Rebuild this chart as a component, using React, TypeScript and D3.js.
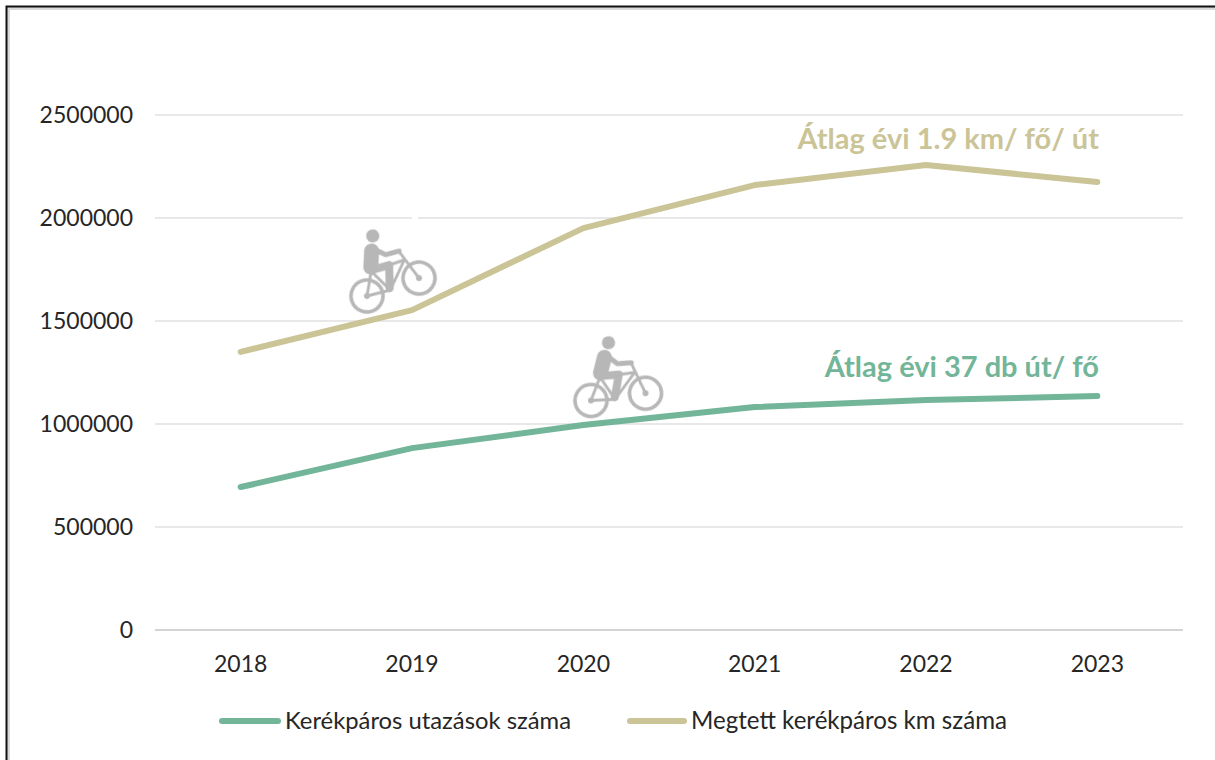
import * as d3 from 'd3'

const YEARS = ['2018', '2019', '2020', '2021', '2022', '2023']
const TRIPS = [694000, 883000, 995000, 1082000, 1116000, 1136000]
const KMS = [1350000, 1553000, 1951000, 2160000, 2257000, 2175000]
const Y_TICKS = [0, 500000, 1000000, 1500000, 2000000, 2500000]

const GREEN = '#73B598'
const TAN = '#CBC497'
const ICON = '#B7B7B7'
const FONT = 'Lato, "Open Sans", sans-serif'

const WIDTH = 1215
const HEIGHT = 760

const x = d3.scaleBand<string>().domain(YEARS).range([155, 1183])
const y = d3.scaleLinear().domain([0, 2500000]).range([630, 115])

const line = d3
  .line<number>()
  .x((_, i) => (x(YEARS[i]) as number) + x.bandwidth() / 2)
  .y(d => y(d))

// Rider on a bike, origin at the rear hub
function Bike({ tx, ty, angle }: { tx: number; ty: number; angle: number }) {
  return (
    <g transform={`translate(${tx},${ty}) rotate(${angle})`} fill="none" stroke={ICON} strokeLinecap="round" strokeLinejoin="round" filter="url(#soft)">
      <circle cx={0} cy={0} r={16} strokeWidth={3.6} />
      <circle cx={55} cy={0} r={16} strokeWidth={3.6} />
      <circle cx={0} cy={0} r={3} fill={ICON} stroke="none" />
      <circle cx={55} cy={0} r={3} fill={ICON} stroke="none" />
      <path d="M0 0 L24 2 L47 -22 L12 -22 L0 0 M12 -22 L24 2 M55 0 L45 -31" strokeWidth={2.8} />
      <circle cx={25} cy={-55} r={6.6} fill={ICON} stroke="none" />
      <path d="M19 -41 L13 -26" strokeWidth={15} />
      <path d="M21 -43 L31 -33 L45 -32" strokeWidth={5} />
      <path d="M13 -23 L31 -22 L24 0" strokeWidth={8} />
    </g>
  )
}

export default function App() {
  return (
    <svg
      width={WIDTH}
      height={HEIGHT}
      style={{ position: 'absolute', left: 0, top: 0, background: '#fff' }}
      fontFamily={FONT}
    >
      <defs>
        <filter id="soft">
          <feGaussianBlur stdDeviation={0.5} />
        </filter>
      </defs>

      {/* frame: only top and left edges are in view */}
      <path d="M8.5 760 V8.5 H1215" fill="none" stroke="#D9D9D9" strokeWidth={3} />
      <path d="M6.5 760 V6.5 H1215" fill="none" stroke="#111" strokeWidth={2} />

      {Y_TICKS.map(t => (
        <g key={t}>
          <line x1={155} x2={1183} y1={y(t)} y2={y(t)} stroke={t === 0 ? '#D4D4D4' : '#E8E8E8'} strokeWidth={2} />
          <text x={133} y={y(t) + 8} textAnchor="end" fontSize={23} fill="#262626">
            {t}
          </text>
        </g>
      ))}
      <rect x={412} y={214} width={6} height={6} fill="#fff" />

      {YEARS.map(yr => (
        <text key={yr} x={(x(yr) as number) + x.bandwidth() / 2} y={672} textAnchor="middle" fontSize={23} fill="#262626">
          {yr}
        </text>
      ))}

      <Bike tx={367} ty={296} angle={-19} />
      <Bike tx={591} ty={400.5} angle={-7.6} />

      <path d={line(KMS) as string} fill="none" stroke={TAN} strokeWidth={6} strokeLinecap="round" strokeLinejoin="round" />
      <path d={line(TRIPS) as string} fill="none" stroke={GREEN} strokeWidth={6} strokeLinecap="round" strokeLinejoin="round" />

      <text x={1099} y={149} textAnchor="end" fontSize={29} fontWeight={700} fill={TAN}>
        Átlag évi 1.9 km/ fő/ út
      </text>
      <text x={1099} y={377} textAnchor="end" fontSize={29} fontWeight={700} fill={GREEN}>
        Átlag évi 37 db út/ fő
      </text>

      <line x1={222} x2={278} y1={721} y2={721} stroke={GREEN} strokeWidth={6} strokeLinecap="round" />
      <text x={285} y={729} fontSize={23.8} fill="#262626">
        Kerékpáros utazások száma
      </text>
      <line x1={630} x2={684} y1={721} y2={721} stroke={TAN} strokeWidth={6} strokeLinecap="round" />
      <text x={691} y={729} fontSize={24.1} fill="#262626">
        Megtett kerékpáros km száma
      </text>
    </svg>
  )
}
